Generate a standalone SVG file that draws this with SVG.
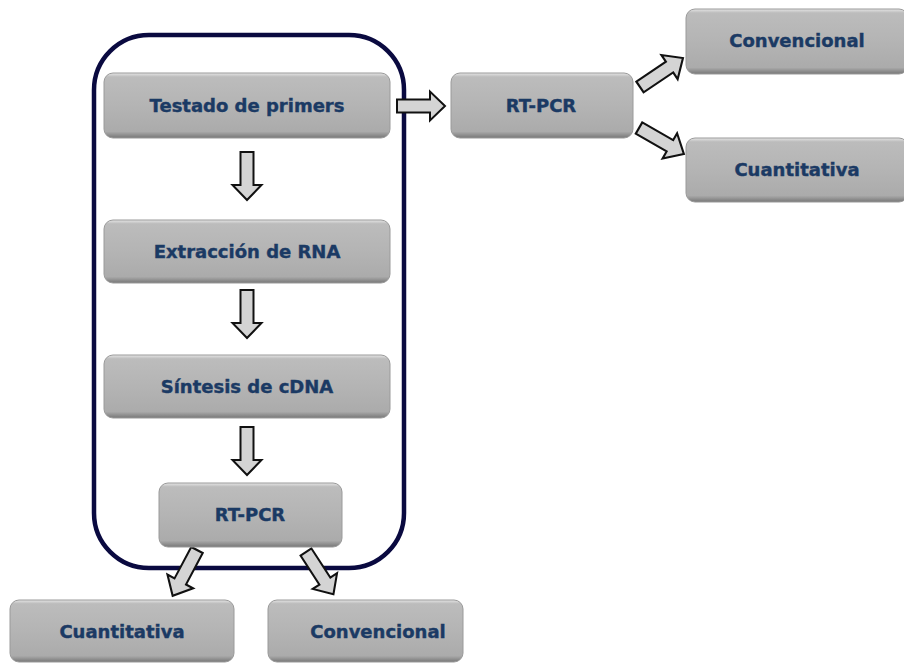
<svg xmlns="http://www.w3.org/2000/svg" width="904" height="664" viewBox="0 0 904 664">
<defs>
<linearGradient id="g" x1="0" y1="0" x2="0" y2="1">
<stop offset="0" stop-color="#e6e6e6"/>
<stop offset="0.06" stop-color="#bcbcbc"/>
<stop offset="0.5" stop-color="#b4b4b4"/>
<stop offset="0.9" stop-color="#ababab"/>
<stop offset="1" stop-color="#777"/>
</linearGradient>
<path id="arr" d="M0,-6.5 L33,-6.5 L33,-14.5 L48,0 L33,14.5 L33,6.5 L0,6.5 Z"/>
<style>
.box{fill:url(#g);stroke:#9a9a9a;stroke-width:1}
.t{font-family:"DejaVu Sans",Verdana,sans-serif;font-weight:bold;font-size:18px;fill:#1b3a64;stroke:#1b3a64;stroke-width:0.4;text-anchor:middle}
.a{fill:#d4d4d4;stroke:#111;stroke-width:2;stroke-linejoin:miter}
</style>
</defs>
<rect width="904" height="664" fill="#fff"/>
<rect id="container" x="94" y="35" width="310" height="533" rx="55" fill="none" stroke="#0a0a40" stroke-width="4.5"/>
<g id="connectors">
<use href="#arr" class="a" transform="translate(247,152) rotate(90)"/>
<use href="#arr" class="a" transform="translate(247,290) rotate(90)"/>
<use href="#arr" class="a" transform="translate(247,427) rotate(90)"/>
<use href="#arr" class="a" transform="translate(397,106)"/>
<use href="#arr" class="a" transform="translate(640,87) rotate(-34) scale(1.08,1)"/>
<use href="#arr" class="a" transform="translate(639,128) rotate(30) scale(1.08,1)"/>
<use href="#arr" class="a" transform="translate(197,550) rotate(118) scale(1.08,1)"/>
<use href="#arr" class="a" transform="translate(306,552) rotate(57) scale(1.05,1)"/>
</g>
<g id="n1"><rect class="box" x="104" y="73" width="286" height="65" rx="9"/><text class="t" x="247" y="112">Testado de primers</text></g>
<g id="n2"><rect class="box" x="104" y="220" width="286" height="63" rx="9"/><text class="t" x="247" y="258">Extracción de RNA</text></g>
<g id="n3"><rect class="box" x="104" y="355" width="286" height="63" rx="9"/><text class="t" x="247" y="393">Síntesis de cDNA</text></g>
<g id="n4"><rect class="box" x="159" y="483" width="183" height="64" rx="9"/><text class="t" x="250" y="521">RT-PCR</text></g>
<g id="n5"><rect class="box" x="10" y="600" width="224" height="62" rx="9"/><text class="t" x="122" y="638">Cuantitativa</text></g>
<g id="n6"><rect class="box" x="268" y="600" width="195" height="62" rx="9"/><text class="t" x="378" y="638">Convencional</text></g>
<g id="n7"><rect class="box" x="451" y="73" width="182" height="65" rx="9"/><text class="t" x="541" y="112">RT-PCR</text></g>
<g id="n8"><rect class="box" x="686" y="9" width="222" height="65" rx="9"/><text class="t" x="797" y="47">Convencional</text></g>
<g id="n9"><rect class="box" x="686" y="138" width="222" height="64" rx="9"/><text class="t" x="797" y="176">Cuantitativa</text></g>
</svg>
